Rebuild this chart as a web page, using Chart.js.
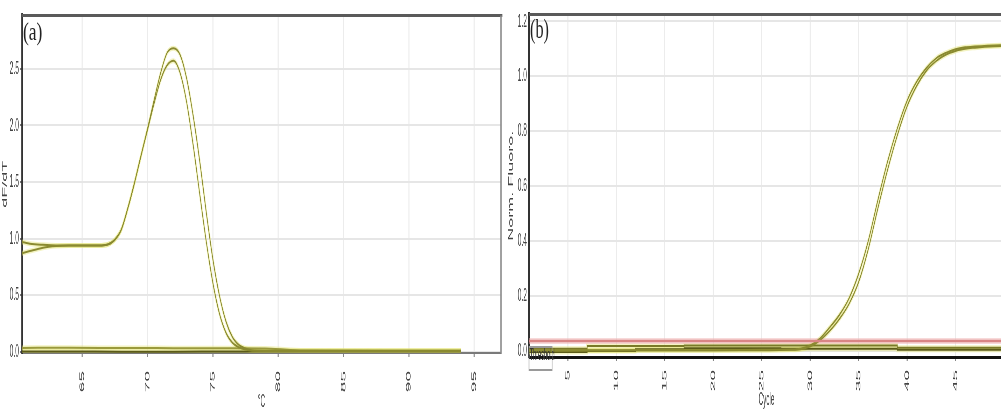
<!DOCTYPE html>
<html>
<head>
<meta charset="utf-8">
<script src="https://cdn.jsdelivr.net/npm/chart.js@4.4.1/dist/chart.umd.min.js"></script>
<style>
  html, body { margin: 0; padding: 0; background: #fff; width: 1001px; height: 416px; overflow: hidden; }
  .panel { position: absolute; top: 0; transform-origin: 0 0; transform: scaleX(0.35); }
  .panel canvas { display: block; }
  .tag { position: absolute; font-family: "Liberation Serif", serif; color: #222; transform-origin: 0 0; line-height: 1; }
</style>
</head>
<body>
<div class="panel" style="left:0"><canvas id="melt" width="1440" height="416"></canvas></div>
<div class="panel" style="left:503px"><canvas id="amp" width="1463" height="416"></canvas></div>
<div class="tag" style="left:23px;top:19px;font-size:25px;transform:scaleX(0.7)">(a)</div>
<div class="tag" style="left:530px;top:16px;font-size:27px;transform:scaleX(0.6)">(b)</div>

<script>
// melt curve (derivative) - temperature in °C
const meltTemps = [60.4, 61, 62, 63, 64, 65, 66, 66.5, 67, 67.5, 68, 68.5, 69, 69.5, 70, 70.5, 71, 71.5,
  72, 72.5, 73, 73.5, 74, 74.5, 75, 75.5, 76, 76.5, 77, 77.5, 78, 80, 85, 90, 94];
const meltSampleA = [0.97, 0.955, 0.945, 0.94, 0.94, 0.94, 0.94, 0.94, 0.95, 0.99, 1.08, 1.27, 1.49, 1.73,
  1.97, 2.22, 2.46, 2.64, 2.68, 2.62, 2.41, 2.08, 1.68, 1.23, 0.82, 0.50, 0.27, 0.13, 0.06, 0.03, 0.015,
  0.01, 0.01, 0.01, 0.01];
const meltSampleB = [0.87, 0.89, 0.92, 0.935, 0.94, 0.94, 0.94, 0.94, 0.95, 0.99, 1.08, 1.27, 1.49, 1.73,
  1.96, 2.19, 2.40, 2.53, 2.57, 2.46, 2.20, 1.82, 1.39, 0.97, 0.61, 0.34, 0.17, 0.08, 0.04, 0.02, 0.01,
  0.008, 0.008, 0.008, 0.008];
// negative controls, flat near zero
const negTemps = [60.4, 64, 68, 72, 76, 79, 82, 88, 94];
const negMeltA = [0.035, 0.036, 0.034, 0.033, 0.032, 0.03, 0.012, 0.01, 0.01];
const negMeltB = [0.003, 0.004, 0.002, 0.002, 0.003, 0.004, 0.004, 0.003, 0.003];

// amplification - normalised fluorescence per cycle
const ampCycles = [1, 5, 10, 15, 20, 25, 28, 29, 30, 31, 32, 33, 34, 35, 36, 37, 38, 39, 40, 41, 42, 43,
  44, 45, 46, 47, 48, 49, 50];
const ampSampleA = [0.002, 0.002, 0.003, 0.003, 0.003, 0.004, 0.005, 0.008, 0.02, 0.045, 0.085, 0.13, 0.19,
  0.28, 0.40, 0.55, 0.69, 0.81, 0.91, 0.98, 1.03, 1.065, 1.085, 1.098, 1.105, 1.108, 1.11, 1.112, 1.113];
const ampSampleB = [0.001, 0.002, 0.002, 0.003, 0.003, 0.003, 0.004, 0.006, 0.016, 0.038, 0.072, 0.115, 0.17,
  0.25, 0.37, 0.52, 0.66, 0.785, 0.89, 0.965, 1.02, 1.055, 1.078, 1.092, 1.10, 1.104, 1.107, 1.109, 1.11];
const ncCycles = [1, 7, 12, 17, 27, 39, 44, 50];
const ncSampleA = [0.005, 0.008, 0.018, 0.018, 0.02, 0.02, 0.012, 0.012];
const ncSampleB = [-0.005, -0.004, 0.0, 0.006, 0.01, 0.008, 0.004, 0.004];
const thresholdLevel = 0.036;

const FONT = "Liberation Sans";
const CORE = "#8a8a30";
const HALO = "rgba(228,228,120,0.45)";
const DARK = "#5b5b18";

function series(xs, ys, color, width, order, stepped) {
  return {
    data: xs.map((x, i) => ({ x, y: ys[i] })),
    borderColor: color,
    borderWidth: width,
    pointRadius: 0,
    fill: false,
    cubicInterpolationMode: "monotone",
    stepped: stepped || false,
    order
  };
}

// curve + its soft yellow halo underneath
function curve(xs, ys, color, stepped) {
  return [
    series(xs, ys, color, 2, 1, stepped),
    series(xs, ys, HALO, 5, 3, stepped)
  ];
}

// top / right frame lines of the plot box
const frame = {
  id: "frame",
  afterDraw(chart, args, opts) {
    const { ctx, chartArea: a } = chart;
    ctx.save();
    ctx.lineCap = "butt";
    if (opts.top) {
      ctx.strokeStyle = opts.top.color;
      ctx.lineWidth = opts.top.width;
      ctx.beginPath();
      ctx.moveTo(a.left, a.top);
      ctx.lineTo(a.right + 4, a.top);
      ctx.stroke();
    }
    if (opts.right) {
      ctx.strokeStyle = opts.right.color;
      ctx.lineWidth = opts.right.width;
      ctx.beginPath();
      ctx.moveTo(a.right, a.top);
      ctx.lineTo(a.right, a.bottom);
      ctx.stroke();
    }
    ctx.restore();
  }
};

// "Threshold" caption box in the lower left corner
const thresholdTag = {
  id: "thresholdTag",
  afterDraw(chart) {
    const { ctx, chartArea: a } = chart;
    ctx.save();
    ctx.strokeStyle = "#9a9a9a";
    ctx.lineWidth = 2;
    ctx.strokeRect(a.left, a.bottom - 10, 66, 23);
    ctx.fillStyle = "#333";
    ctx.font = "16px " + FONT;
    ctx.textBaseline = "middle";
    ctx.fillText("Threshold", a.left + 2, a.bottom - 1);
    ctx.restore();
  }
};

function xAxis(min, max, title, height, pad, titlePad, border) {
  return {
    type: "linear", min, max,
    afterFit: s => { s.height = height; },
    border: border,
    grid: { color: "#ececec", lineWidth: 3, tickLength: 4, tickColor: "#888" },
    ticks: {
      stepSize: 5, includeBounds: false, minRotation: 90, maxRotation: 90, padding: pad,
      color: "#444", font: { family: FONT, size: 19 }
    },
    title: { display: true, text: title, color: "#444", font: { family: FONT, size: 18 }, padding: { top: 0, bottom: titlePad } }
  };
}

function yAxis(min, max, step, title, width, tickLen, pad, titlePad) {
  return {
    min, max,
    afterFit: s => { s.width = width; },
    border: { color: "#333", width: 5 },
    grid: { color: "#e6e6e6", lineWidth: 2, tickLength: tickLen, tickColor: "#777" },
    ticks: {
      stepSize: step, includeBounds: false, padding: pad, color: "#444",
      font: { family: FONT, size: 19 },
      callback: v => v.toFixed(1)
    },
    title: { display: true, text: title, color: "#444", font: { family: FONT, size: 18 }, padding: { top: titlePad, bottom: 0 } }
  };
}

const common = {
  responsive: false,
  animation: false,
  events: [],
  plugins: { legend: { display: false }, tooltip: { enabled: false } }
};

new Chart(document.getElementById("melt"), {
  type: "line",
  data: {
    datasets: [
      ...curve(meltTemps, meltSampleA, CORE),
      ...curve(meltTemps, meltSampleB, CORE),
      ...curve(negTemps, negMeltA, "#9a9a3c"),
      ...curve(negTemps, negMeltB, DARK)
    ]
  },
  options: {
    ...common,
    layout: { padding: { left: 0, top: 8, right: 8.6, bottom: 0 } },
    plugins: { ...common.plugins, frame: { top: { color: "#5a5a5a", width: 3 }, right: { color: "#8a8a8a", width: 4 } } },
    scales: {
      x: xAxis(60.4, 97.05, "°C", 63, 14, 3, { color: "#7a7a7a", width: 2 }),
      y: yAxis(-0.01, 2.97, 0.5, "dF/dT", 63, 5, 4, 3)
    }
  },
  plugins: [frame]
});

new Chart(document.getElementById("amp"), {
  type: "line",
  data: {
    datasets: [
      series([1, 50], [thresholdLevel, thresholdLevel], "#d98585", 2.5, 0),
      series([1, 50], [thresholdLevel, thresholdLevel], "rgba(240,180,180,0.5)", 6, 3),
      ...curve(ampCycles, ampSampleA, CORE),
      ...curve(ampCycles, ampSampleB, CORE),
      ...curve(ncCycles, ncSampleA, "#7a7a28", "after"),
      ...curve(ncCycles, ncSampleB, DARK, "after")
    ]
  },
  options: {
    ...common,
    layout: { padding: { left: 0, top: 11, right: 28.7, bottom: 0 } },
    plugins: { ...common.plugins, frame: { top: { color: "#5a5a5a", width: 3 } } },
    scales: {
      x: xAxis(1, 50, "Cycle", 59, 9, 5, { color: "#111", width: 3 }),
      y: yAxis(-0.022, 1.225, 0.2, "Norm. Fluoro.", 74.3, 3, 3, 12)
    }
  },
  plugins: [frame, thresholdTag]
});
</script>
</body>
</html>
